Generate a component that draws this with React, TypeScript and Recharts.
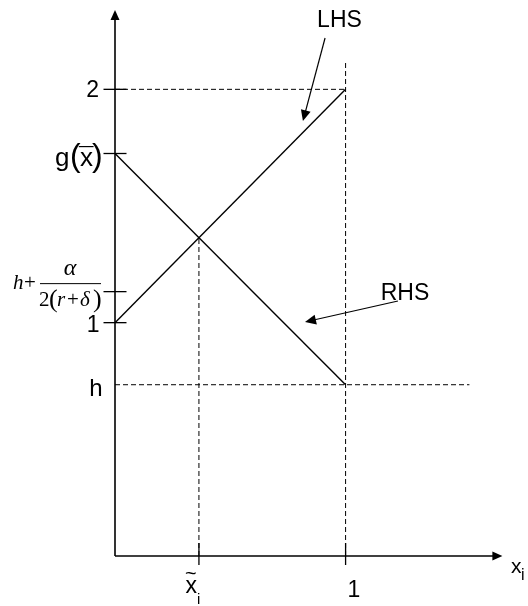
import React from 'react';
import { ComposedChart, Line, XAxis, YAxis, ReferenceLine, ReferenceDot } from 'recharts';

const SANS = '"Liberation Sans", Arial, Helvetica, sans-serif';
const SERIF = '"Liberation Serif", "Times New Roman", serif';
const INK = '#000';

// Axis ranges of the schematic
const xDomain: [number, number] = [0, 1.7];
const yDomain: [number, number] = [0, 2.34];

// LHS rises from 1 to 2, RHS falls from g(x̄) to h over x_i in [0, 1]
const lhsX = [0, 1];
const lhsY = [1, 2];
const rhsX = [0, 1];
const rhsY = [1.725, 0.734];

// Levels marked on the vertical axis
const levelH = 0.734;
const levelOne = 1;
const levelFrac = 1.133;
const levelG = 1.725;
const levelTwo = 2;

// Positions marked on the horizontal axis
const xTilde = 0.364;
const xOne = 1;
const crossY = 1.364;

const yTicks = [levelH, levelOne, levelFrac, levelG, levelTwo];
const yTickNames = ['h', '1', 'frac', 'g', '2'];
const xTicks = [xTilde, xOne];
const xTickNames = ['xtilde', '1'];

// Extents of guides and axes
const hGuideEnd = 1.537;
const oneGuideTop = 2.116;
const xAxisEnd = 1.68;
const yAxisEnd = 2.34;

// Callout arrows and their captions
const lhsCallout = [{ x: 0.911, y: 2.22 }, { x: 0.815, y: 1.864 }];
const rhsCallout = [{ x: 1.227, y: 1.093 }, { x: 0.824, y: 1.003 }];
const lhsLabelAt = { x: 0.9735, y: 2.267 };
const rhsLabelAt = { x: 1.2576, y: 1.097 };
const xLabelAt = { x: 1.717, y: -0.073 };

const lhsData = lhsX.map((x, i) => ({ x, y: lhsY[i] }));
const rhsData = rhsX.map((x, i) => ({ x, y: rhsY[i] }));

// Line segment ending in a filled arrowhead at (x2, y2)
const arrowShape = (len: number, half: number, width: number) => (p: any) => {
  const { x1, y1, x2, y2 } = p;
  const dx = x2 - x1;
  const dy = y2 - y1;
  const d = Math.hypot(dx, dy) || 1;
  const ux = dx / d;
  const uy = dy / d;
  const bx = x2 - ux * len;
  const by = y2 - uy * len;
  const pts = `${x2},${y2} ${bx - uy * half},${by + ux * half} ${bx + uy * half},${by - ux * half}`;
  return (
    <g>
      <line x1={x1} y1={y1} x2={bx + ux} y2={by + uy} stroke={INK} strokeWidth={width} />
      <polygon points={pts} fill={INK} />
    </g>
  );
};

const dashed = { stroke: INK, strokeWidth: 1, strokeDasharray: '5 3' };

function YTick(props: any) {
  const { x, y, payload } = props;
  const name = yTickNames[yTicks.indexOf(payload.value)];
  const cross =
    name !== 'h' ? (
      <line x1={x - 11.5} x2={x + 11.5} y1={y} y2={y} stroke={INK} strokeWidth={1.3} />
    ) : null;
  let label: React.ReactNode = null;
  if (name === '2') {
    label = (
      <text x={x - 16} y={y + 8} textAnchor="end" fontFamily={SANS} fontSize={23} fill={INK}>
        2
      </text>
    );
  } else if (name === '1') {
    label = (
      <text x={x - 15.5} y={y + 9} textAnchor="end" fontFamily={SANS} fontSize={23} fill={INK}>
        1
      </text>
    );
  } else if (name === 'h') {
    label = (
      <text x={x - 12.5} y={y + 11} textAnchor="end" fontFamily={SANS} fontSize={24} fill={INK}>
        h
      </text>
    );
  } else if (name === 'g') {
    const b = y + 12;
    label = (
      <text y={b} fontFamily={SANS} fill={INK} fontSize={26} textAnchor="start">
        <tspan x={x - 60}>g</tspan>
        <tspan x={x - 45} fontSize={32}>(</tspan>
        <tspan x={x - 35}>x</tspan>
        <tspan x={x - 36}>¯</tspan>
        <tspan x={x - 23} fontSize={32}>)</tspan>
      </text>
    );
  } else if (name === 'frac') {
    const den = y + 14;
    label = (
      <g fontFamily={SERIF} fill={INK} fontSize={21} textAnchor="start">
        <text y={y - 3} textAnchor="start">
          <tspan x={x - 102} fontStyle="italic">h</tspan>
          <tspan x={x - 91}>+</tspan>
        </text>
        <text x={x - 45} y={y - 17} fontStyle="italic" fontSize={24} textAnchor="middle">α</text>
        <line x1={x - 75} x2={x - 14} y1={y - 8} y2={y - 8} stroke={INK} strokeWidth={1} />
        <text y={den} textAnchor="start">
          <tspan x={x - 76}>2</tspan>
          <tspan x={x - 66} dy={1} fontSize={26}>(</tspan>
          <tspan x={x - 58} dy={-1} fontStyle="italic">r</tspan>
          <tspan x={x - 48}>+</tspan>
          <tspan x={x - 35} fontStyle="italic">δ</tspan>
          <tspan x={x - 22} dy={1} fontSize={26}>)</tspan>
        </text>
      </g>
    );
  }
  return (
    <g>
      {cross}
      {label}
    </g>
  );
}

function XTick(props: any) {
  const { x, y, payload } = props;
  const name = xTickNames[xTicks.indexOf(payload.value)];
  return (
    <g fontFamily={SANS} fill={INK}>
      <line x1={x} x2={x} y1={y - 13} y2={y + 9} stroke={INK} strokeWidth={1.3} />
      {name === 'xtilde' ? (
        <text textAnchor="start" fontSize={23}>
          <tspan x={x - 14} y={y + 24} fontSize={20}>~</tspan>
          <tspan x={x - 13.5} y={y + 37}>x</tspan>
          <tspan x={x - 2} y={y + 48} fontSize={15}>i</tspan>
        </text>
      ) : (
        <text x={x + 2} y={y + 41} fontSize={23} textAnchor="start">1</text>
      )}
    </g>
  );
}

const textMark = (text: string, size: number) => (p: any) => (
  <text x={p.cx} y={p.cy} textAnchor="middle" fontFamily={SANS} fontSize={size} fill={INK}>
    {text}
  </text>
);

const axisLabelMark = (p: any) => (
  <text fontFamily={SANS} fill={INK} textAnchor="start">
    <tspan x={p.cx} y={p.cy} fontSize={21}>x</tspan>
    <tspan x={p.cx + 10} y={p.cy + 7} fontSize={16}>i</tspan>
  </text>
);

export default function App() {
  return (
    <div style={{ position: 'fixed', left: 0, top: 0, width: 528, height: 606 }}>
      <ComposedChart width={528} height={606} margin={{ top: 10, right: 21, bottom: 0, left: 0 }}>
        <XAxis
          dataKey="x"
          type="number"
          domain={xDomain}
          ticks={xTicks}
          interval={0}
          height={50}
          axisLine={false}
          tickLine={false}
          tickSize={0}
          tickMargin={0}
          tick={<XTick />}
          allowDataOverflow
        />
        <YAxis
          type="number"
          domain={yDomain}
          ticks={yTicks}
          interval={0}
          width={115}
          axisLine={false}
          tickLine={false}
          tickSize={0}
          tickMargin={0}
          tick={<YTick />}
          allowDataOverflow
        />

        {/* dashed guides */}
        <ReferenceLine segment={[{ x: 0, y: levelTwo }, { x: xOne, y: levelTwo }]} ifOverflow="visible" {...dashed} />
        <ReferenceLine segment={[{ x: 0, y: levelH }, { x: hGuideEnd, y: levelH }]} ifOverflow="visible" {...dashed} />
        <ReferenceLine segment={[{ x: xOne, y: 0 }, { x: xOne, y: oneGuideTop }]} ifOverflow="visible" {...dashed} />
        <ReferenceLine segment={[{ x: xTilde, y: 0 }, { x: xTilde, y: crossY }]} ifOverflow="visible" {...dashed} />

        {/* axes with arrowheads */}
        <ReferenceLine
          segment={[{ x: 0, y: 0 }, { x: 0, y: yAxisEnd }]}
          ifOverflow="visible"
          shape={arrowShape(10, 4.5, 1.6)}
        />
        <ReferenceLine
          segment={[{ x: 0, y: 0 }, { x: xAxisEnd, y: 0 }]}
          ifOverflow="visible"
          shape={arrowShape(10, 4.5, 1.6)}
        />

        {/* callouts */}
        <ReferenceLine segment={lhsCallout as any} ifOverflow="visible" shape={arrowShape(11, 5, 1.2)} />
        <ReferenceLine segment={rhsCallout as any} ifOverflow="visible" shape={arrowShape(11, 5, 1.2)} />
        <ReferenceDot x={lhsLabelAt.x} y={lhsLabelAt.y} r={1} ifOverflow="visible" shape={textMark('LHS', 23)} />
        <ReferenceDot x={rhsLabelAt.x} y={rhsLabelAt.y} r={1} ifOverflow="visible" shape={textMark('RHS', 23)} />
        <ReferenceDot x={xLabelAt.x} y={xLabelAt.y} r={1} ifOverflow="visible" shape={axisLabelMark} />

        <Line data={lhsData} dataKey="y" type="linear" stroke={INK} strokeWidth={1.4} dot={false} isAnimationActive={false} />
        <Line data={rhsData} dataKey="y" type="linear" stroke={INK} strokeWidth={1.4} dot={false} isAnimationActive={false} />
      </ComposedChart>
    </div>
  );
}
